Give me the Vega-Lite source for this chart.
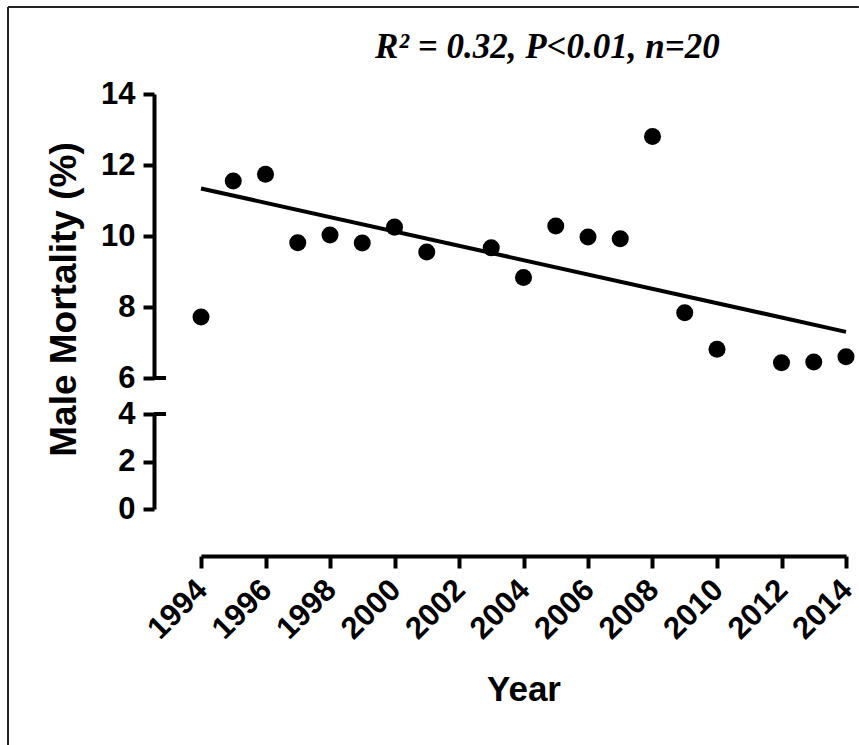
{
  "$schema": "https://vega.github.io/schema/vega-lite/v6.json",
  "padding": {"left": 7, "top": 5, "right": 0, "bottom": 0},
  "background": "white",
  "datasets": {
    "points": [
      {"year": 1994, "mortality": 7.72},
      {"year": 1995, "mortality": 11.55},
      {"year": 1996, "mortality": 11.74},
      {"year": 1997, "mortality": 9.81},
      {"year": 1998, "mortality": 10.03},
      {"year": 1999, "mortality": 9.80},
      {"year": 2000, "mortality": 10.25},
      {"year": 2001, "mortality": 9.55},
      {"year": 2003, "mortality": 9.67},
      {"year": 2004, "mortality": 8.83},
      {"year": 2005, "mortality": 10.28},
      {"year": 2006, "mortality": 9.97},
      {"year": 2007, "mortality": 9.92},
      {"year": 2008, "mortality": 12.80},
      {"year": 2009, "mortality": 7.84},
      {"year": 2010, "mortality": 6.81},
      {"year": 2012, "mortality": 6.43},
      {"year": 2013, "mortality": 6.45},
      {"year": 2014, "mortality": 6.60}
    ],
    "fit": [
      {"year": 1994, "mortality": 11.34},
      {"year": 2014, "mortality": 7.30}
    ],
    "note": [
      {"label": "R² = 0.32, P<0.01, n=20"}
    ]
  },
  "config": {
    "view": {"stroke": null},
    "font": "Liberation Sans",
    "axis": {
      "grid": false,
      "domainColor": "black",
      "domainWidth": 4,
      "tickColor": "black",
      "tickWidth": 4,
      "labelColor": "black",
      "labelFont": "Liberation Sans",
      "labelFontWeight": "bold",
      "labelOverlap": false,
      "labelBound": false,
      "labelFlush": false,
      "titleColor": "black",
      "titleFont": "Liberation Sans",
      "titleFontWeight": "bold"
    }
  },
  "spacing": 36,
  "bounds": "flush",
  "vconcat": [
    {
      "width": 645,
      "height": 284,
      "layer": [
        {
          "data": {"name": "points"},
          "mark": {"type": "circle", "color": "black", "size": 290, "opacity": 1},
          "encoding": {
            "x": {"field": "year", "type": "quantitative", "scale": {"domain": [1994, 2014], "nice": false, "zero": false}, "axis": null},
            "y": {
              "field": "mortality", "type": "quantitative",
              "scale": {"domain": [6, 14], "nice": false, "zero": false},
              "axis": {
                "values": [6, 8, 10, 12, 14], "offset": 47, "tickSize": 11, "labelPadding": 8, "labelFontSize": 31,
                "title": "Male Mortality (%)", "titleFontSize": 37, "titleAngle": -90, "titleX": -90, "titleY": 205,
                "titleAlign": "center", "titleBaseline": "middle"
              }
            }
          }
        },
        {
          "data": {"name": "fit"},
          "mark": {"type": "line", "color": "black", "strokeWidth": 4},
          "encoding": {
            "x": {"field": "year", "type": "quantitative", "scale": {"domain": [1994, 2014], "nice": false, "zero": false}, "axis": null},
            "y": {
              "field": "mortality", "type": "quantitative",
              "scale": {"domain": [6, 14], "nice": false, "zero": false},
              "axis": {
                "values": [6, 8, 10, 12, 14], "offset": 47, "tickSize": 11, "labelPadding": 8, "labelFontSize": 31,
                "title": "Male Mortality (%)", "titleFontSize": 37, "titleAngle": -90, "titleX": -90, "titleY": 205,
                "titleAlign": "center", "titleBaseline": "middle"
              }
            }
          }
        },
        {
          "data": {"values": [{}]},
          "mark": {"type": "rule", "color": "black", "strokeWidth": 4},
          "encoding": {
            "x": {"datum": 1992.543, "type": "quantitative", "scale": {"domain": [1994, 2014], "nice": false, "zero": false}, "axis": null},
            "x2": {"datum": 1992.915},
            "y": {
              "datum": 6, "type": "quantitative",
              "scale": {"domain": [6, 14], "nice": false, "zero": false},
              "axis": {
                "values": [6, 8, 10, 12, 14], "offset": 47, "tickSize": 11, "labelPadding": 8, "labelFontSize": 31,
                "title": "Male Mortality (%)", "titleFontSize": 37, "titleAngle": -90, "titleX": -90, "titleY": 205,
                "titleAlign": "center", "titleBaseline": "middle"
              }
            }
          }
        },
        {
          "data": {"values": [{}]},
          "mark": {"type": "rule", "color": "#222222", "strokeWidth": 2},
          "encoding": {
            "x": {"datum": 1988.016, "type": "quantitative", "scale": {"domain": [1994, 2014], "nice": false, "zero": false}, "axis": null},
            "x2": {"datum": 2014.4},
            "y": {
              "datum": 16.451, "type": "quantitative",
              "scale": {"domain": [6, 14], "nice": false, "zero": false},
              "axis": {
                "values": [6, 8, 10, 12, 14], "offset": 47, "tickSize": 11, "labelPadding": 8, "labelFontSize": 31,
                "title": "Male Mortality (%)", "titleFontSize": 37, "titleAngle": -90, "titleX": -90, "titleY": 205,
                "titleAlign": "center", "titleBaseline": "middle"
              }
            }
          }
        },
        {
          "data": {"values": [{}]},
          "mark": {"type": "rule", "color": "#222222", "strokeWidth": 2},
          "encoding": {
            "x": {"datum": 1988.016, "type": "quantitative", "scale": {"domain": [1994, 2014], "nice": false, "zero": false}, "axis": null},
            "y": {
              "datum": 16.451, "type": "quantitative",
              "scale": {"domain": [6, 14], "nice": false, "zero": false},
              "axis": {
                "values": [6, 8, 10, 12, 14], "offset": 47, "tickSize": 11, "labelPadding": 8, "labelFontSize": 31,
                "title": "Male Mortality (%)", "titleFontSize": 37, "titleAngle": -90, "titleX": -90, "titleY": 205,
                "titleAlign": "center", "titleBaseline": "middle"
              }
            },
            "y2": {"datum": -4.338}
          }
        },
        {
          "data": {"name": "note"},
          "mark": {"type": "text", "font": "Liberation Serif", "fontSize": 35, "fontWeight": "bold", "fontStyle": "italic", "align": "center", "baseline": "alphabetic", "color": "black"},
          "encoding": {
            "x": {"datum": 2004.74, "type": "quantitative", "scale": {"domain": [1994, 2014], "nice": false, "zero": false}, "axis": null},
            "y": {
              "datum": 15.02, "type": "quantitative",
              "scale": {"domain": [6, 14], "nice": false, "zero": false},
              "axis": {
                "values": [6, 8, 10, 12, 14], "offset": 47, "tickSize": 11, "labelPadding": 8, "labelFontSize": 31,
                "title": "Male Mortality (%)", "titleFontSize": 37, "titleAngle": -90, "titleX": -90, "titleY": 205,
                "titleAlign": "center", "titleBaseline": "middle"
              }
            },
            "text": {"field": "label"}
          }
        }
      ]
    },
    {
      "width": 645,
      "height": 95,
      "layer": [
        {
          "data": {"values": [{}]},
          "mark": {"type": "rule", "color": "black", "strokeWidth": 4},
          "encoding": {
            "x": {
              "datum": 1992.543, "type": "quantitative",
              "scale": {"domain": [1994, 2014], "nice": false, "zero": false},
              "axis": {
                "values": [1994, 1996, 1998, 2000, 2002, 2004, 2006, 2008, 2010, 2012, 2014],
                "format": "d", "offset": 47, "tickSize": 12, "labelAngle": -45, "labelAlign": "right", "labelBaseline": "middle",
                "labelFontSize": 31, "labelPadding": 17, "labelOffset": 1, "title": "Year", "titleFontSize": 35, "titlePadding": 28
              }
            },
            "x2": {"datum": 1992.915},
            "y": {
              "datum": 4, "type": "quantitative",
              "scale": {"domain": [0, 4], "nice": false, "zero": false},
              "axis": {"values": [0, 2, 4], "offset": 47, "tickSize": 11, "labelPadding": 8, "labelFontSize": 31, "title": null}
            }
          }
        }
      ]
    }
  ]
}
